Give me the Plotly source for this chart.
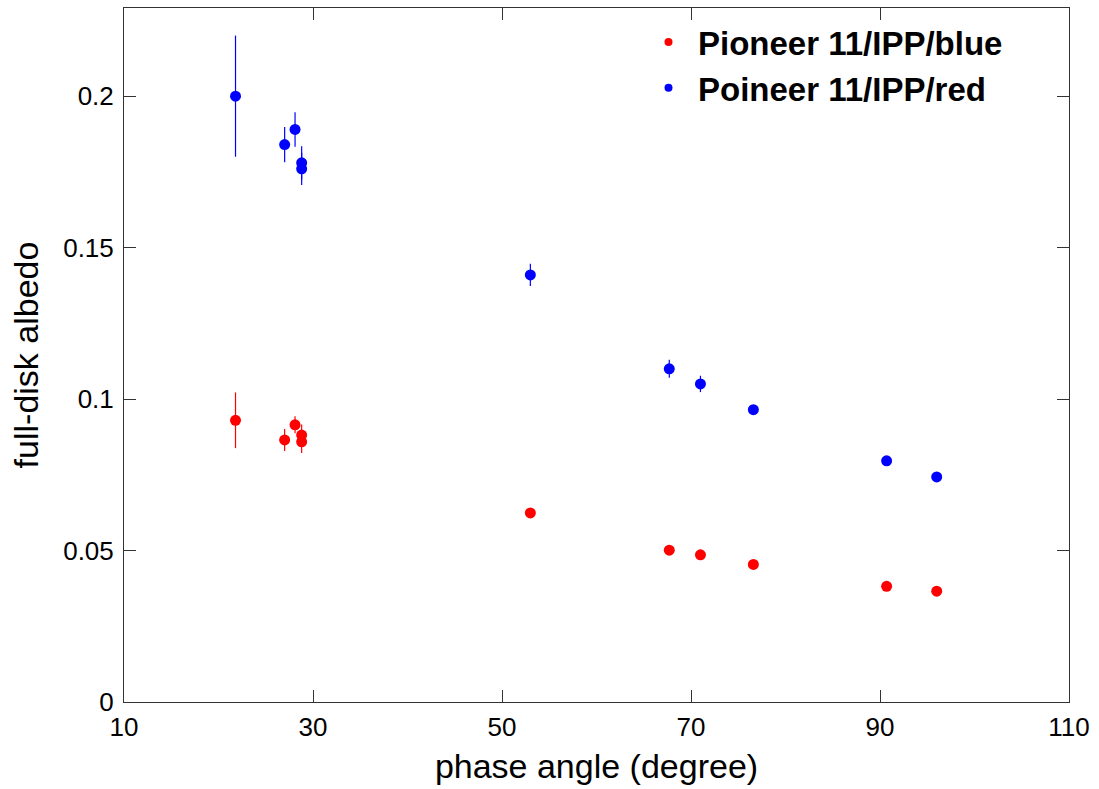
import plotly.graph_objects as go

# Data
phase_angle = [21.8, 27.0, 28.1, 28.8, 28.8, 53.0, 67.7, 71.0, 76.6, 90.7, 96.0]
red_filter_albedo = [0.200, 0.184, 0.189, 0.178, 0.176, 0.141, 0.110, 0.105, 0.0965, 0.0796, 0.0743]
red_filter_err = [0.020, 0.0058, 0.0057, 0.0055, 0.0053, 0.0037, 0.0030, 0.0027, 0.0013, 0.0008, 0.0008]
blue_filter_albedo = [0.093, 0.0865, 0.0915, 0.0881, 0.0859, 0.0624, 0.0501, 0.0486, 0.0454, 0.0382, 0.0366]
blue_filter_err = [0.0092, 0.0036, 0.0028, 0.0035, 0.0037, 0.0010, 0.0009, 0.0008, 0.0007, 0.0006, 0.0006]

x_ticks = [10, 30, 50, 70, 90, 110]
y_ticks = [0, 0.05, 0.1, 0.15, 0.2]
y_tick_labels = ["0", "0.05", "0.1", "0.15", "0.2"]

FONT = "Liberation Sans, Arial, Helvetica, sans-serif"
RED = "#ff0000"
BLUE = "#0000ff"

fig = go.Figure()

fig.add_trace(go.Scatter(
    x=phase_angle, y=blue_filter_albedo, mode="markers",
    marker=dict(color=RED, size=11),
    error_y=dict(type="data", array=blue_filter_err, visible=True,
                 color=RED, thickness=1.2, width=0),
    showlegend=False,
))
fig.add_trace(go.Scatter(
    x=phase_angle, y=red_filter_albedo, mode="markers",
    marker=dict(color=BLUE, size=11),
    error_y=dict(type="data", array=red_filter_err, visible=True,
                 color=BLUE, thickness=1.2, width=0),
    showlegend=False,
))
# legend entries
fig.add_trace(go.Scatter(x=[None], y=[None], mode="markers",
                         marker=dict(color=RED, size=8),
                         name="Pioneer 11/IPP/blue"))
fig.add_trace(go.Scatter(x=[None], y=[None], mode="markers",
                         marker=dict(color=BLUE, size=8),
                         name="Poineer 11/IPP/red"))

axis_common = dict(
    showline=True, linecolor="#333333", linewidth=1, mirror="ticks",
    ticks="inside", ticklen=12, tickcolor="#333333", tickwidth=1,
    showgrid=False, zeroline=False,
    tickfont=dict(family=FONT, size=26, color="black"),
)

fig.update_xaxes(
    range=[10, 110], tickvals=x_ticks, ticktext=[str(v) for v in x_ticks],
    ticklabelstandoff=2,
    title=dict(text="phase angle (degree)", font=dict(family=FONT, size=34, color="black"),
               standoff=12),
    **axis_common,
)
fig.update_yaxes(
    range=[0, 0.2291], tickvals=y_ticks, ticktext=y_tick_labels,
    ticklabelstandoff=4,
    title=dict(text="full-disk albedo", font=dict(family=FONT, size=34, color="black"),
               standoff=14),
    **axis_common,
)

fig.update_layout(
    width=1099, height=789,
    margin=dict(l=124, r=30, t=8, b=87, autoexpand=False),
    plot_bgcolor="white", paper_bgcolor="white",
    font=dict(family=FONT, color="black"),
    legend=dict(
        x=(639 - 124) / 945, y=(702 - 14) / 694, xanchor="left", yanchor="top",
        bgcolor="rgba(0,0,0,0)", borderwidth=0,
        font=dict(family=FONT, size=33, color="black", weight="bold"),
        itemwidth=49,
    ),
)

fig.write_html("out.html")
